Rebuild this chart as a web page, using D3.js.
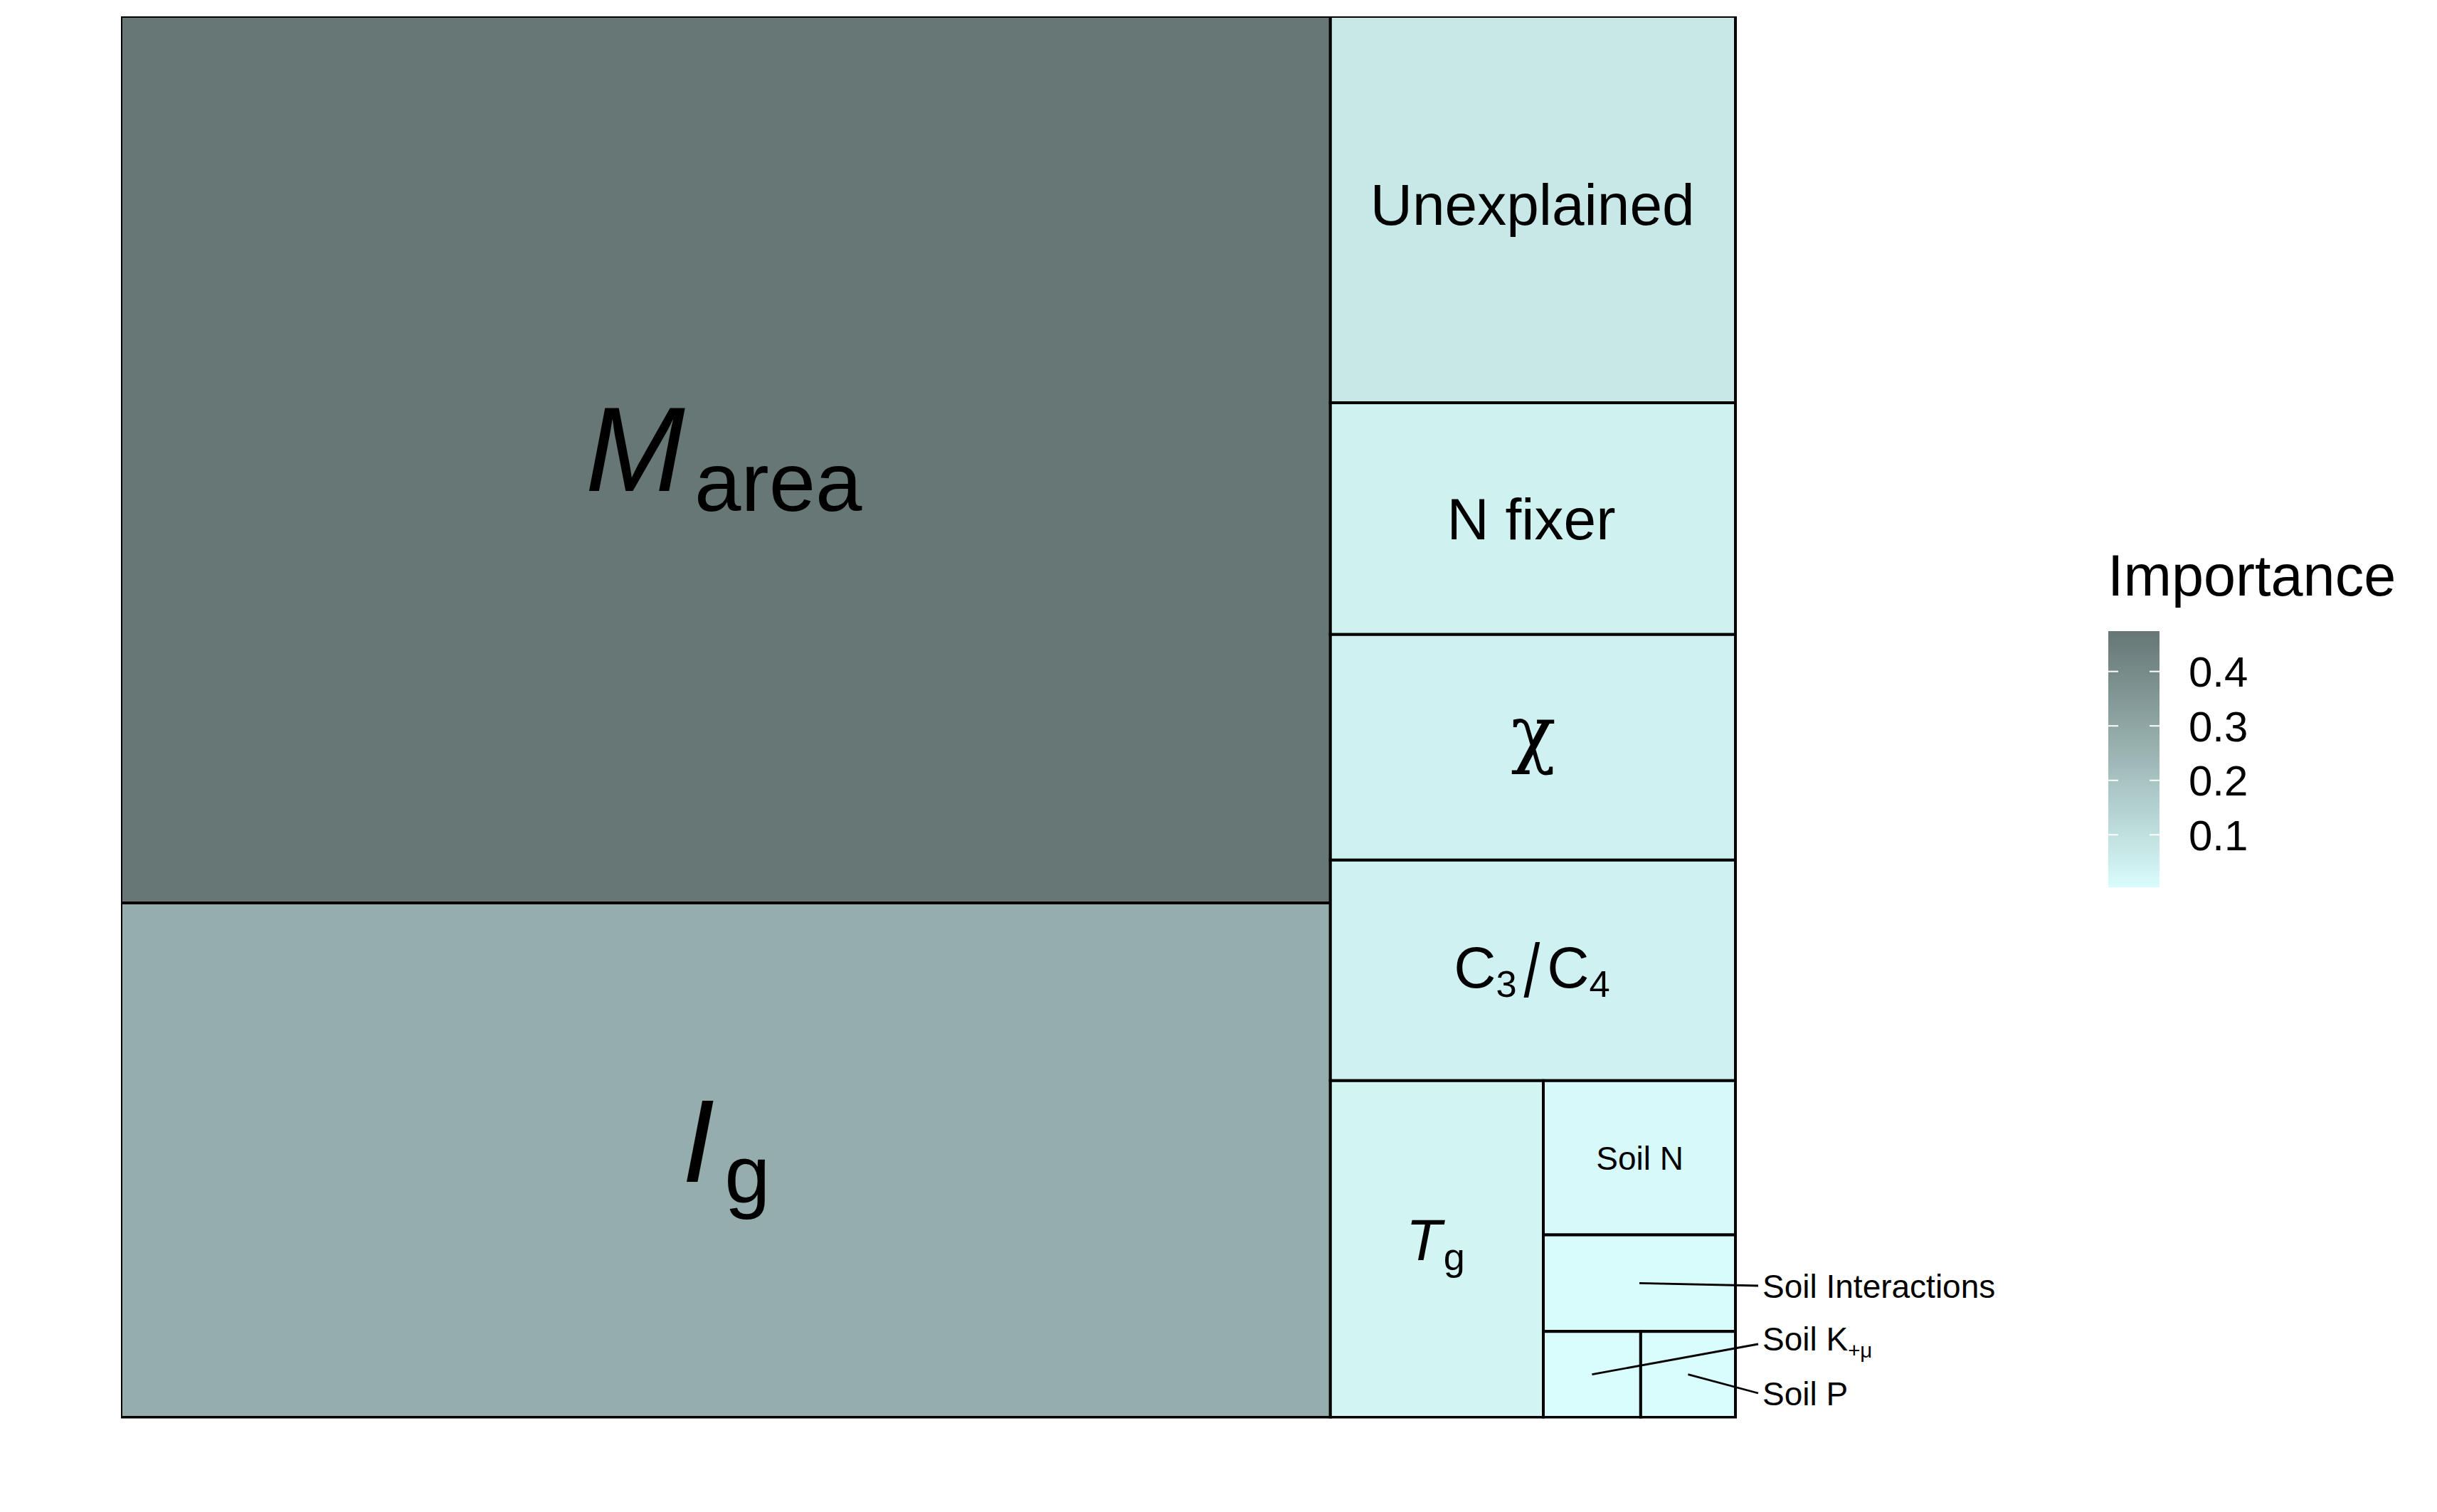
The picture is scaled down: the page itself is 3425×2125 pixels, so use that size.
<!DOCTYPE html>
<html><head><meta charset="utf-8">
<script src="https://cdn.jsdelivr.net/npm/d3@7"></script>
<style>
body{margin:0;background:#fff;}
svg{display:block;}
</style>
</head><body>
<svg id="chart" width="3425" height="2125"></svg>
<script>
// ---------------- data ----------------
const categories = ["Marea","Ig","Unexplained","N fixer","chi","C3/C4","Tg","Soil N","Soil Interactions","Soil K","Soil P"];
const importance = [0.4741,0.2751,0.0692,0.0415,0.0404,0.0395,0.0317,0.0131,0.0082,0.0037,0.0036];
const legendTitle = "Importance";
const legendTicks = [0.1,0.2,0.3,0.4];
const lowColor = "#d9fcfc";
const highColor = "#667775";

// nesting of tiles (as laid out by the original treemap)
const tileTree = {dir:"dice", children:[
  {dir:"slice", children:["Marea","Ig"]},
  {dir:"slice", children:["Unexplained","N fixer","chi","C3/C4",
    {dir:"dice", children:["Tg",
      {dir:"slice", children:["Soil N","Soil Interactions",
        {dir:"dice", children:["Soil K","Soil P"]}]}]}]}
]};

// ---------------- layout ----------------
const FONT = '"Liberation Sans", Arial, sans-serif';
const panel = {x0:170, y0:23, x1:2439, y1:1992};
const svg = d3.select("#chart");
const valueOf = new Map(categories.map((c,i)=>[c, importance[i]]));

const root = d3.hierarchy(tileTree, d => d.children ? d.children.map(c => typeof c === "string" ? {name:c} : c) : null)
  .sum(d => d.name ? valueOf.get(d.name) : 0);

d3.treemap()
  .size([panel.x1-panel.x0, panel.y1-panel.y0])
  .tile((node,x0,y0,x1,y1) => (node.data.dir === "slice" ? d3.treemapSlice : d3.treemapDice)(node,x0,y0,x1,y1))
  (root);

const ext = d3.extent(importance);
const color = d3.scaleLinear().domain(ext).range([lowColor, highColor]).interpolate(d3.interpolateLab);

const defs = svg.append("defs");
defs.append("clipPath").attr("id","pclip")
  .append("rect").attr("x",panel.x0).attr("y",panel.y0)
  .attr("width",panel.x1-panel.x0+2).attr("height",panel.y1-panel.y0+1.5);

const leaves = root.leaves();
const tiles = svg.append("g").attr("clip-path","url(#pclip)")
  .append("g").attr("transform",`translate(${panel.x0},${panel.y0})`);
tiles.selectAll("rect").data(leaves).join("rect")
  .attr("x",d=>d.x0).attr("y",d=>d.y0)
  .attr("width",d=>d.x1-d.x0).attr("height",d=>d.y1-d.y0)
  .attr("fill",d=>color(d.value))
  .attr("stroke","#000").attr("stroke-width",4);

// ---------------- labels ----------------
const labelSpec = {
  "Marea": {size:168, parts:[{t:"M",i:true},{t:"area",sub:true,gap:0.08}]},
  "Ig": {size:165, parts:[{t:"I",i:true},{t:"g",sub:true,gap:0.085}]},
  "Unexplained": {size:82, parts:[{t:"Unexplained"}]},
  "N fixer": {size:82, parts:[{t:"N fixer"}]},
  "chi": {size:104, parts:[{t:"\u03C7", family:'"DejaVu Serif", serif'}]},
  "C3/C4": {size:82, parts:[{t:"C"},{t:"3",sub:true,ratio:0.64},{t:"/",stretch:1.3,shift:0.17,gap:0.12},{t:"C",gap:0.12},{t:"4",sub:true,ratio:0.64}]},
  "Tg": {size:82, parts:[{t:"T",i:true},{t:"g",sub:true,ratio:0.66,gap:0.03}]},
  "Soil N": {size:46, parts:[{t:"Soil N"}]},
  "Soil Interactions": {size:46, outside:true, ly:-185, parts:[{t:"Soil Interactions"}]},
  "Soil K": {size:46, outside:true, ly:-103, parts:[{t:"Soil K"},{t:"+\u03BC",sub:true,ratio:0.64,shiftR:0.2}]},
  "Soil P": {size:46, outside:true, ly:-34, parts:[{t:"Soil P"}]}
};

const ctx = document.createElement("canvas").getContext("2d");
function measure(spec){
  let x = 0; const segs = [];
  for (const p of spec.parts){
    const size = p.sub ? spec.size*(p.ratio||0.7) : spec.size;
    const shift = p.sub ? spec.size*(p.shiftR||0.17) : spec.size*(p.shift||0);
    const st = p.stretch || 1;
    x += (p.gap||0)*spec.size;
    const family = p.family || FONT;
    ctx.font = `${p.i?"italic ":""}${size}px ${family}`;
    const m = ctx.measureText(p.t);
    segs.push({t:p.t, i:p.i, family, size, shift, x, st,
      l: x - m.actualBoundingBoxLeft, r: x + m.actualBoundingBoxRight,
      top: shift - m.actualBoundingBoxAscent*st, bot: shift + m.actualBoundingBoxDescent*st});
    x += m.width;
  }
  return {segs,
    l: d3.min(segs,s=>s.l), r: d3.max(segs,s=>s.r),
    top: d3.min(segs,s=>s.top), bot: d3.max(segs,s=>s.bot)};
}

const labelLayer = svg.append("g");
leaves.forEach(leaf => {
  const spec = labelSpec[leaf.data.name];
  const M = measure(spec);
  const tcx = panel.x0 + (leaf.x0+leaf.x1)/2;
  const tcy = panel.y0 + (leaf.y0+leaf.y1)/2;
  let ox, oy;
  if (spec.outside){
    const ly = panel.y1 + spec.ly;
    const lx = panel.x1 + 40;
    labelLayer.append("line")
      .attr("x1",tcx).attr("y1",tcy).attr("x2",panel.x1+32).attr("y2",ly)
      .attr("stroke","#000").attr("stroke-width",2.8);
    ox = lx - M.l;
    oy = ly - (M.top+M.bot)/2;
  } else {
    ox = tcx - (M.l+M.r)/2;
    oy = tcy - (M.top+M.bot)/2;
  }
  M.segs.forEach(s => {
    labelLayer.append("text")
      .attr("transform", `translate(${ox + s.x},${oy + s.shift}) scale(1,${s.st})`)
      .attr("x", 0).attr("y", 0)
      .attr("font-family", s.family).attr("font-size", s.size)
      .attr("font-style", s.i ? "italic" : "normal")
      .attr("fill","#000").text(s.t);
  });
});

// ---------------- legend ----------------
const bar = {x:2963, w:72, top:887, bottom:1247};
const ly = d3.scaleLinear().domain(ext).range([bar.bottom, bar.top]);
const grad = defs.append("linearGradient").attr("id","lg")
  .attr("x1",0).attr("y1",1).attr("x2",0).attr("y2",0);
d3.range(0,1.0001,0.05).forEach(t => {
  grad.append("stop").attr("offset",t).attr("stop-color", color(ext[0] + t*(ext[1]-ext[0])));
});
const leg = svg.append("g");
leg.append("rect").attr("x",bar.x).attr("y",bar.top).attr("width",bar.w).attr("height",bar.bottom-bar.top)
  .attr("fill","url(#lg)");
legendTicks.forEach(v => {
  const y = ly(v);
  leg.append("line").attr("x1",bar.x).attr("x2",bar.x+14).attr("y1",y).attr("y2",y).attr("stroke","#fff").attr("stroke-width",2);
  leg.append("line").attr("x1",bar.x+bar.w-14).attr("x2",bar.x+bar.w).attr("y1",y).attr("y2",y).attr("stroke","#fff").attr("stroke-width",2);
  leg.append("text").attr("x",3076).attr("y",y+21.5)
    .attr("font-family",FONT).attr("font-size",60).attr("fill","#000").text(d3.format(".1f")(v));
});
leg.append("text").attr("x",2962).attr("y",837)
  .attr("font-family",FONT).attr("font-size",81).attr("fill","#000").text(legendTitle);
</script>
</body></html>
